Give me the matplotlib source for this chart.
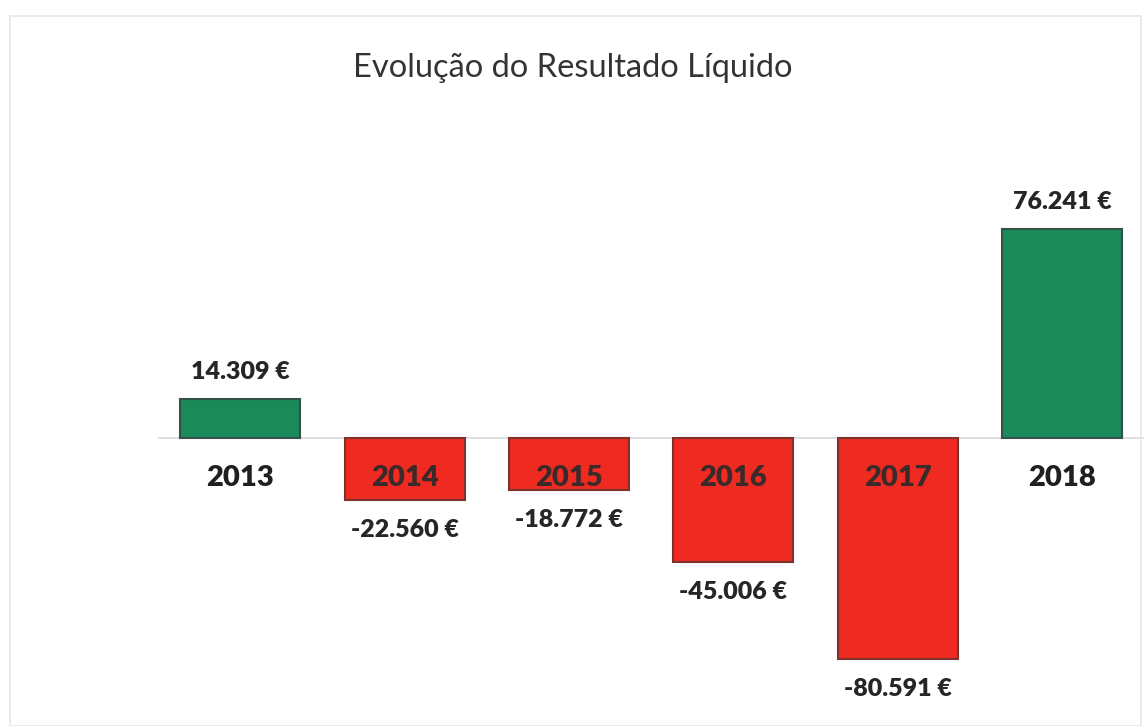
import matplotlib
matplotlib.use("Agg")
import matplotlib.pyplot as plt
from matplotlib.patches import Rectangle

# DATA
years = ["2013", "2014", "2015", "2016", "2017", "2018"]
resultado = [14309, -22560, -18772, -45006, -80591, 76241]
labels = ["14.309 €", "-22.560 €", "-18.772 €", "-45.006 €", "-80.591 €", "76.241 €"]

GREEN = "#1a8a5a"
RED = "#ef2a20"
plt.rcParams["font.family"] = ["Lato", "DejaVu Sans"]

fig = plt.figure(figsize=(11.46, 7.26), dpi=100)
ax = fig.add_axes([0.1379, 0.0186, 0.8604, 0.756])

x = list(range(len(years)))
colors = [GREEN if v >= 0 else RED for v in resultado]
edges = ["#34524a" if v >= 0 else "#7c3330" for v in resultado]
bars = ax.bar(x, resultado, width=0.73, color=colors, edgecolor=edges, linewidth=1.5, zorder=3)

ax.set_xlim(-0.5, len(years) - 0.5)
ax.set_ylim(-100000, 100000)
ax.axhline(0, color="#d9d9d9", linewidth=1.2, zorder=2)
ax.axis("off")

# VALUE LABELS
for xi, v, lab in zip(x, resultado, labels):
    off = 27 if v >= 0 else -30
    ax.annotate(lab, (xi, v), xytext=(0, off), textcoords="offset pixels",
                ha="center", va="center", fontsize=18, fontweight="heavy", color="#262626")

# YEAR LABELS AT THE ZERO LINE
for xi, v, y in zip(x, resultado, years):
    col = "#1f1f1f" if v >= 0 else "#3a2a2a"
    ax.annotate(y, (xi, 0), xytext=(0, -40), textcoords="offset pixels",
                ha="center", va="center", fontsize=21, fontweight="heavy", color=col, zorder=5)

fig.text(0.5, 1 - 68 / 726, "Evolução do Resultado Líquido", ha="center", va="center",
         fontsize=23.5, color="#333333")

# faint border
fig.patches.append(Rectangle((10 / 1146, 0), 1131 / 1146, 1 - 16 / 726, transform=fig.transFigure,
                             fill=False, edgecolor="#e6e6e6", linewidth=1.2))

fig.savefig("out.png", dpi=100, facecolor="white")
